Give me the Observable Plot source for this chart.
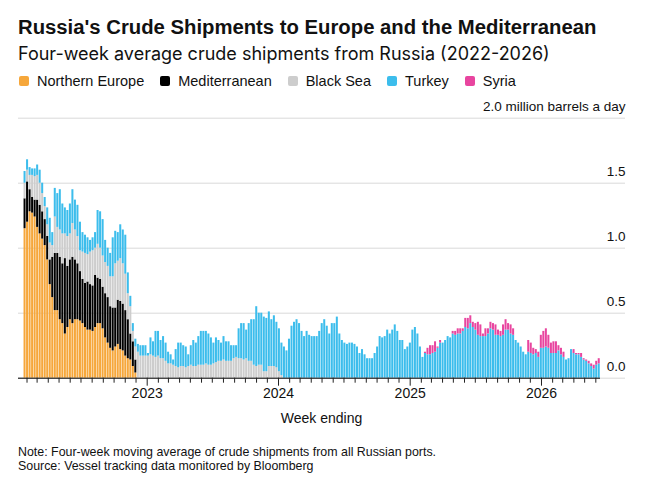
<!DOCTYPE html>
<html>
<head>
<meta charset="utf-8">
<script src="https://cdn.jsdelivr.net/npm/d3@7"></script>
<script src="https://cdn.jsdelivr.net/npm/@observablehq/plot@0.6"></script>
<style>
  html, body { margin: 0; padding: 0; background: #fff; }
  body { width: 651px; height: 493px; position: relative; overflow: hidden; font-family: "Liberation Sans", Arial, sans-serif; color: #111; }
  .abs { position: absolute; white-space: nowrap; }
  #title { left: 18px; top: 17px; font-size: 20.3px; line-height: 20.3px; font-weight: 700; }
  #subtitle { left: 18px; top: 44.5px; font-size: 18px; line-height: 18px; font-family: Inter, "Liberation Sans", Arial, sans-serif; }
  #legend { left: 19px; top: 74px; font-size: 14.5px; line-height: 14.5px; display: flex; align-items: center; }
  #legend .item { display: flex; align-items: center; margin-right: 16px; }
  #legend .sw { width: 10px; height: 10px; border-radius: 2px; margin-right: 8px; }
  #chart { left: 0; top: 95px; }
  #xlabel { left: 0; width: 643px; text-align: center; top: 411px; font-size: 14px; line-height: 14px; }
  #note { left: 18px; top: 444.7px; font-size: 12.4px; line-height: 14px; }
</style>
</head>
<body>
<div id="title" class="abs">Russia's Crude Shipments to Europe and the Mediterranean</div>
<div id="subtitle" class="abs">Four-week average crude shipments from Russia (2022-2026)</div>
<div id="legend" class="abs"></div>
<div id="chart" class="abs"></div>
<div id="xlabel" class="abs">Week ending</div>
<div id="note" class="abs">Note: Four-week moving average of crude shipments from all Russian ports.<br>Source: Vessel tracking data monitored by Bloomberg</div>
<script>
// ---------- DATA (million barrels a day, weekly) ----------
const seriesNames = ["Northern Europe", "Mediterranean", "Black Sea", "Turkey", "Syria"];
const seriesColors = ["#f6a73b", "#000000", "#cdcdcd", "#3cbdec", "#e8459f"];

const firstWeek = "2022-01-23";   // first week shown
const syriaFirstWeek = "2025-02-09";

const northernEurope = [
  1.15,1.20,1.28,1.27,1.24,1.16,1.11,1.07,1.02,0.91,0.72,0.62,0.52,0.52,0.45,0.42,0.34,0.39,0.45,0.42,
  0.45,0.45,0.44,0.42,0.39,0.37,0.37,0.36,0.39,0.42,0.42,0.38,0.31,0.27,0.23,0.21,0.24,0.26,0.22,0.21,
  0.17,0.15,0.14,0.09,0.04
];
const mediterranean = [
  0.23,0.31,0.17,0.12,0.13,0.21,0.22,0.21,0.20,0.18,0.19,0.31,0.44,0.44,0.48,0.46,0.58,0.47,0.46,0.51,
  0.46,0.43,0.38,0.34,0.34,0.37,0.35,0.35,0.40,0.35,0.34,0.32,0.34,0.35,0.32,0.33,0.30,0.34,0.37,0.36,
  0.35,0.30,0.20,0.19,0.10
];
const blackSea = [
  // 2022
  0.12,0.09,0.11,0.17,0.18,0.19,0.17,0.14,0.10,0.09,0.13,0.09,0.28,0.20,0.21,0.23,0.19,0.23,0.20,0.26,
  0.23,0.21,0.16,0.21,0.23,0.21,0.25,0.27,0.21,0.26,0.24,0.24,0.24,0.24,0.23,0.24,0.34,0.30,0.33,0.31,
  0.28,0.20,0.21,0.08,0.10,0.20,0.17,0.17,0.17,
  // 2023
  0.17,0.18,0.17,0.16,0.17,0.15,0.15,0.13,0.11,0.11,0.10,0.09,0.08,0.09,0.09,0.08,0.09,0.10,0.09,0.09,
  0.10,0.10,0.10,0.11,0.10,0.10,0.11,0.12,0.13,0.13,0.14,0.13,0.13,0.13,0.15,0.16,0.15,0.15,0.14,0.15,
  0.13,0.13,0.10,0.09,0.10,0.10,0.05,0.05,0.09,0.09,0.09,0.08,
  // 2024
  0.05,0.02
];
const turkey = [
  // 2022
  0.09,0.08,0.06,0.05,0.06,0.08,0.10,0.08,0.07,0.13,0.19,0.10,0.22,0.26,0.31,0.23,0.20,0.20,0.23,0.26,
  0.23,0.24,0.22,0.15,0.14,0.13,0.09,0.10,0.12,0.26,0.28,0.28,0.17,0.14,0.18,0.30,0.25,0.22,0.26,0.26,
  0.30,0.16,0.08,0.06,0.06,0.06,0.08,0.08,0.08,
  // 2023
  0.02,0.13,0.11,0.20,0.19,0.14,0.17,0.14,0.09,0.07,0.04,0.13,0.19,0.18,0.16,0.16,0.09,0.15,0.20,0.18,
  0.22,0.26,0.26,0.25,0.24,0.21,0.16,0.19,0.16,0.14,0.18,0.15,0.15,0.12,0.10,0.09,0.23,0.27,0.28,0.22,
  0.29,0.32,0.35,0.46,0.40,0.40,0.42,0.41,0.42,0.36,0.39,0.35,
  // 2024
  0.33,0.25,0.24,0.21,0.30,0.40,0.43,0.45,0.42,0.36,0.32,0.36,0.33,0.32,0.32,0.32,0.36,0.42,0.45,0.40,
  0.34,0.42,0.42,0.47,0.34,0.29,0.27,0.26,0.27,0.27,0.26,0.24,0.19,0.22,0.18,0.15,0.15,0.15,0.19,0.24,
  0.32,0.31,0.32,0.37,0.34,0.37,0.41,0.36,0.29,0.29,0.22,0.24,
  // 2025
  0.27,0.37,0.39,0.34,0.24,0.16,0.19,0.18,0.18,0.19,0.20,0.23,0.27,0.27,0.29,0.32,0.31,0.34,0.33,0.34,
  0.34,0.36,0.39,0.38,0.42,0.39,0.37,0.33,0.32,0.32,0.32,0.34,0.38,0.37,0.33,0.33,0.32,0.33,0.37,0.37,
  0.34,0.33,0.29,0.27,0.24,0.20,0.18,0.20,0.19,0.18,0.19,0.16,
  // 2026
  0.23,0.23,0.24,0.23,0.19,0.19,0.19,0.21,0.18,0.16,0.14,0.15,0.22,0.19,0.18,0.18,0.16,0.14,0.13,0.11,
  0.09,0.07,0.10,0.11
];
const syria = [
  // 2025
  0.01,0.05,0.07,0.06,0.08,0.01,0.02,0,0,0,0,0.02,0.03,0.04,0.04,0.02,0.07,0.08,0.06,0.04,
  0.05,0.10,0.09,0.02,0.06,0.04,0.05,0.05,0.08,0.04,0.04,0.08,0.08,0.05,0.07,0.05,0,0,0,0,
  0,0.09,0.08,0.05,0.03,0.04,
  // 2026
  0.10,0.13,0.14,0.10,0.08,0.09,0.09,0.04,0.05,0.04,0,0,0,0.03,0.01,0.01,0.03,0.01,0.01,0.02,
  0.02,0.03,0.03,0.04
];

const yTickValues = [0, 0.5, 1, 1.5, 2];
const yTickLabels = ["0.0", "0.5", "1.0", "1.5", "2.0 million barrels a day"];
const yearTickLabels = ["2023", "2024", "2025", "2026"];
const xDomain = ["2022-01-08T07:00:00Z", "2026-08-22T12:00:00Z"];

// ---------- BUILD ----------
const seriesData = [
  [seriesNames[0], firstWeek, northernEurope],
  [seriesNames[1], firstWeek, mediterranean],
  [seriesNames[2], firstWeek, blackSea],
  [seriesNames[3], firstWeek, turkey],
  [seriesNames[4], syriaFirstWeek, syria]
];
const rows = [];
for (const [name, start, values] of seriesData) {
  const s = new Date(start + "T00:00:00Z");
  values.forEach((v, i) => rows.push({date: d3.utcWeek.offset(s, i), series: name, value: v}));
}
const lastWeekEnd = d3.utcWeek.offset(new Date(firstWeek + "T00:00:00Z"), turkey.length);
const domain = xDomain.map(d => new Date(d));

const yearTicks = yearTickLabels.map(y => new Date(y + "-01-01T00:00:00Z"));
const monthTicks = d3.utcMonth.range(new Date("2022-02-01T00:00:00Z"), lastWeekEnd)
  .filter(d => d.getUTCMonth() !== 0);

// legend
const legend = document.getElementById("legend");
seriesNames.forEach((n, i) => {
  const it = document.createElement("div");
  it.className = "item";
  it.innerHTML = `<span class="sw" style="background:${seriesColors[i]}"></span><span>${n}</span>`;
  legend.appendChild(it);
});

const chart = Plot.plot({
  width: 651,
  height: 340,
  marginLeft: 18,
  marginRight: 26,
  marginTop: 22.7,
  marginBottom: 57.3,
  style: {fontFamily: "'Liberation Sans', Arial, sans-serif", fontSize: "13.5px", color: "#111", background: "white"},
  x: {type: "utc", domain, label: null},
  y: {domain: [0, 2], axis: null},
  color: {domain: seriesNames, range: seriesColors},
  marks: [
    Plot.ruleY(yTickValues, {stroke: "#d9d9d9", strokeWidth: 1}),
    Plot.rectY(rows, {
      x: "date", interval: d3.utcWeek, y: "value", fill: "series",
      order: seriesNames, insetLeft: 0.25, insetRight: 0.25
    }),
    Plot.ruleY([0], {x1: () => domain[0], x2: () => lastWeekEnd, stroke: "#000", strokeWidth: 1}),
    Plot.axisX(monthTicks, {tickSize: 5, tickFormat: () => "", stroke: "#222"}),
    Plot.axisX(yearTicks, {tickSize: 8, tickPadding: 1.5, tickFormat: (d, i) => yearTickLabels[i], stroke: "#222", fontSize: 14, fill: "#111"}),
    Plot.text(yTickValues, {
      y: d => d, text: (d, i) => yTickLabels[i], frameAnchor: "right",
      textAnchor: "end", lineAnchor: "bottom", dy: -7, fontSize: 13.5, fill: "#111"
    })
  ]
});
document.getElementById("chart").appendChild(chart);
</script>
</body>
</html>
